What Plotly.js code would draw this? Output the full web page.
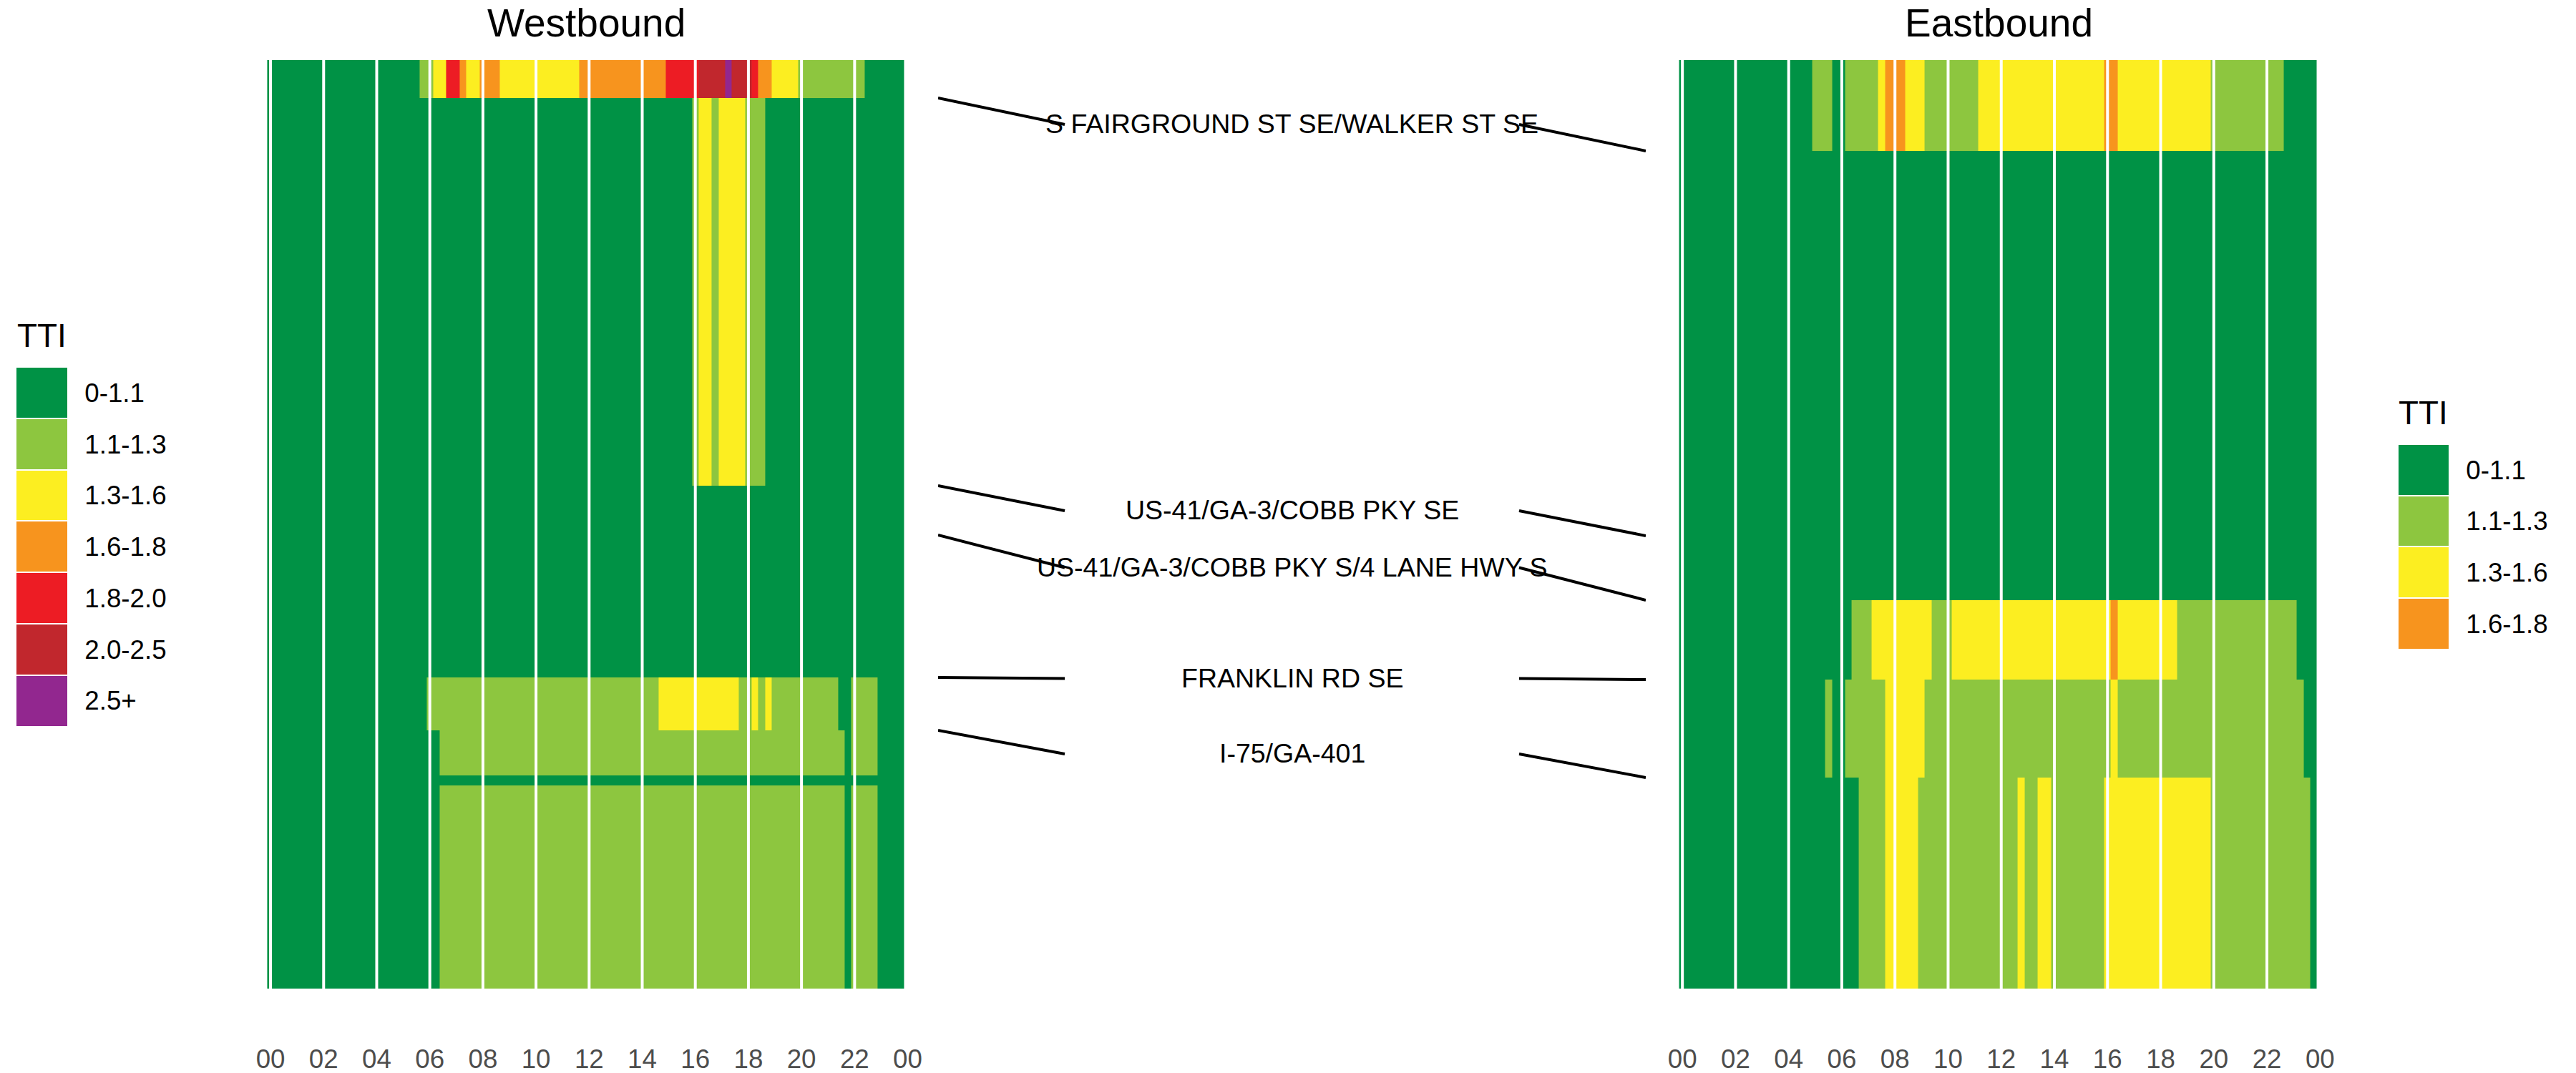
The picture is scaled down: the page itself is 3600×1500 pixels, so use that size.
<!DOCTYPE html>
<html>
<head>
<meta charset="utf-8">
<script src="https://cdn.plot.ly/plotly-3.0.1.min.js"></script>
<style>html,body{margin:0;padding:0;background:#fff;}</style>
</head>
<body>
<div id="chart" style="width:3600px;height:1500px;"></div>
<script>
// ---------------- DATA ----------------
const ttiCategories = ["0-1.1", "1.1-1.3", "1.3-1.6", "1.6-1.8", "1.8-2.0", "2.0-2.5", "2.5+"];
const ttiColors = ["#009245", "#8DC63F", "#FCEE21", "#F7941E", "#ED1C24", "#C1272D", "#92278F"];

const hourTicks = [0, 2, 4, 6, 8, 10, 12, 14, 16, 18, 20, 22, 24];
const hourTickLabels = ["00", "02", "04", "06", "08", "10", "12", "14", "16", "18", "20", "22", "00"];
const binsPerDay = 96;           // 15-minute bins
const binHours = 0.25;

const panelTitles = ["Westbound", "Eastbound"];

// segment lengths (miles), listed top to bottom
const westSegmentLengths = [0.212, 2.168, 0.276, 0.796, 0.296, 0.252, 0.056, 1.136];
const eastSegmentLengths = [0.508, 2.152, 0.360, 0.444, 0.548, 1.180];

// TTI category index per 15-min bin (each chunk = 6 hours), rows top to bottom
const westRows = [
  ["000000000000000000000001", "122443223332222222222223", "333333333333444445555655", "543322221111111111000000"],
  ["000000000000000000000000", "000000000000000000000000", "000000000000000012212222", "111000000000000000000000"],
  ["000000000000000000000000", "000000000000000000000000", "000000000000000000000000", "000000000000000000000000"],
  ["000000000000000000000000", "000000000000000000000000", "000000000000000000000000", "000000000000000000000000"],
  ["000000000000000000000000", "111111111111111111111111", "111111111112222222222221", "121211111111110011110000"],
  ["000000000000000000000000", "001111111111111111111111", "111111111111111111111111", "111111111111111011110000"],
  ["000000000000000000000000", "000000000000000000000000", "000000000000000000000000", "000000000000000000000000"],
  ["000000000000000000000000", "001111111111111111111111", "111111111111111111111111", "111111111111111011110000"]
];
const eastRows = [
  ["000000000000000000001110", "011111233322211111111222", "222222222222222233222222", "222222221111111111100000"],
  ["000000000000000000000000", "000000000000000000000000", "000000000000000000000000", "000000000000000000000000"],
  ["000000000000000000000000", "000000000000000000000000", "000000000000000000000000", "000000000000000000000000"],
  ["000000000000000000000000", "001112222222221112222222", "222222222222222223222222", "222111111111111111111000"],
  ["000000000000000000000010", "011111122222211111111111", "111111111111111112111111", "111111111111111111111100"],
  ["000000000000000000000000", "000111122222111111111111", "111211221111111122222222", "222222221111111111111110"]
];

// intersections: label, boundary index (after N segments) westbound, eastbound
const intersections = ["S FAIRGROUND ST SE/WALKER ST SE", "US-41/GA-3/COBB PKY SE",
  "US-41/GA-3/COBB PKY S/4 LANE HWY S", "FRANKLIN RD SE", "I-75/GA-401"];
const westBoundaryAfter = [1, 2, 3, 4, 5];
const eastBoundaryAfter = [1, 2, 3, 4, 5];

// ---------------- BUILD ----------------
function cumEdges(lengths) {
  const e = [0];
  lengths.forEach(l => e.push(+(e[e.length - 1] + l).toFixed(4)));
  return e;
}
function parseRows(rows) {
  return rows.map(r => r.join("").split("").map(Number));
}
const binCenters = [];
for (let k = 0; k < binsPerDay; k++) binCenters.push(k * binHours);

const westEdges = cumEdges(westSegmentLengths);
const eastEdges = cumEdges(eastSegmentLengths);
const westZ = parseRows(westRows);
const eastZ = parseRows(eastRows);
const totalLen = Math.max(westEdges[westEdges.length - 1], eastEdges[eastEdges.length - 1]);

const nCat = ttiCategories.length;
const colorscale = [];
ttiColors.forEach((c, i) => { colorscale.push([i / nCat, c]); colorscale.push([(i + 1) / nCat, c]); });

const FONT = "Liberation Sans, Arial, Helvetica, sans-serif";
const W = 3600, H = 1500;
const px = v => v / W;
const py = v => 1 - v / H;

const panelY = [py(1382), py(84)];

const traces = [];
traces.push({type: "heatmap", x: binCenters, y: westEdges, z: westZ, xaxis: "x", yaxis: "y",
  colorscale: colorscale, zmin: -0.5, zmax: nCat - 0.5, showscale: false, zsmooth: false, hoverinfo: "skip"});
traces.push({type: "heatmap", x: binCenters, y: eastEdges, z: eastZ, xaxis: "x2", yaxis: "y2",
  colorscale: colorscale, zmin: -0.5, zmax: nCat - 0.5, showscale: false, zsmooth: false, hoverinfo: "skip"});

// connectors between the two panels
const lx = [], ly = [], labY = [];
const mL = 0.179, mR = 0.821;
intersections.forEach((name, i) => {
  const yl = westEdges[westBoundaryAfter[i]];
  const yr = eastEdges[eastBoundaryAfter[i]];
  const ym = (yl + yr) / 2;
  labY.push(ym);
  lx.push(0, mL, null, mR, 1, null);
  ly.push(yl, ym, null, ym, yr, null);
});
traces.push({type: "scatter", mode: "lines", x: lx, y: ly, xaxis: "x3", yaxis: "y3",
  line: {color: "#000", width: 4}, hoverinfo: "skip", connectgaps: false});

// legends as small heatmaps
function usedCats(z) {
  let m = 0; z.forEach(r => r.forEach(v => { if (v > m) m = v; })); return m + 1;
}
const westLegN = usedCats(westZ), eastLegN = usedCats(eastZ);
const legIdx = n => ttiCategories.slice(0, n).map((_, i) => i);
traces.push({type: "heatmap", x: [0], y: legIdx(westLegN), z: legIdx(westLegN).map(i => [i]),
  xaxis: "x4", yaxis: "y4", colorscale: colorscale, zmin: -0.5, zmax: nCat - 0.5, showscale: false,
  ygap: 2, hoverinfo: "skip"});
traces.push({type: "heatmap", x: [0], y: legIdx(eastLegN), z: legIdx(eastLegN).map(i => [i]),
  xaxis: "x5", yaxis: "y5", colorscale: colorscale, zmin: -0.5, zmax: nCat - 0.5, showscale: false,
  ygap: 2, hoverinfo: "skip"});

const tickAxis = (dom, anchor) => ({
  domain: dom, anchor: anchor, range: [-0.15, 24.15], tickmode: "array",
  tickvals: hourTicks, ticktext: hourTickLabels, ticks: "outside", ticklen: 66,
  tickcolor: "rgba(0,0,0,0)", showgrid: false, zeroline: false, showline: false,
  tickfont: {family: FONT, size: 36.7, color: "#4D4D4D"}, fixedrange: true
});
const hiddenY = (dom, anchor, range) => ({
  domain: dom, anchor: anchor, range: range, visible: false, showgrid: false, zeroline: false, fixedrange: true
});
const legendY = (dom, anchor, n) => ({
  domain: dom, anchor: anchor, range: [n - 0.5, -0.5], side: "right", tickmode: "array",
  tickvals: legIdx(n), ticktext: ttiCategories.slice(0, n), ticks: "outside", ticklen: 16,
  tickcolor: "rgba(0,0,0,0)", showgrid: false, zeroline: false, showline: false,
  tickfont: {family: FONT, size: 36.7, color: "#000"}, fixedrange: true
});

const shapes = [];
[["x", "y"], ["x2", "y2"]].forEach(([xr, yr]) => {
  hourTicks.filter(h => h < 24).forEach(h => {
    shapes.push({type: "line", xref: xr, yref: yr + " domain", x0: h, x1: h, y0: 0, y1: 1,
      line: {color: "#FFFFFF", width: 4}, layer: "above"});
  });
});

const annotations = [
  {text: panelTitles[0], xref: "paper", yref: "paper", x: px(819), y: 1, xanchor: "center", yanchor: "top",
    borderpad: 0, showarrow: false, font: {family: FONT, size: 55, color: "#000"}},
  {text: panelTitles[1], xref: "paper", yref: "paper", x: px(2793), y: 1, xanchor: "center", yanchor: "top",
    borderpad: 0, showarrow: false, font: {family: FONT, size: 55, color: "#000"}},
  {text: "TTI", xref: "paper", yref: "paper", x: px(22), y: py(469), xanchor: "left", yanchor: "middle",
    showarrow: false, font: {family: FONT, size: 45.8, color: "#000"}},
  {text: "TTI", xref: "paper", yref: "paper", x: px(3350), y: py(577), xanchor: "left", yanchor: "middle",
    showarrow: false, font: {family: FONT, size: 45.8, color: "#000"}}
];
intersections.forEach((name, i) => {
  annotations.push({text: name, xref: "x3", yref: "y3", x: 0.5, y: labY[i], xanchor: "center", yanchor: "middle",
    yshift: 1, showarrow: false, font: {family: FONT, size: 37.5, color: "#000"}});
});

const layout = {
  width: W, height: H, autosize: false,
  margin: {l: 0, r: 0, t: 0, b: 0, pad: 0},
  paper_bgcolor: "#FFFFFF", plot_bgcolor: "#FFFFFF",
  showlegend: false,
  font: {family: FONT, color: "#000"},
  xaxis: tickAxis([px(372.5), px(1274.1)], "y"),
  yaxis: hiddenY(panelY, "x", [totalLen, 0]),
  xaxis2: tickAxis([px(2345.6), px(3247.9)], "y2"),
  yaxis2: hiddenY(panelY, "x2", [totalLen, 0]),
  xaxis3: {domain: [px(1311), px(2300)], anchor: "y3", range: [0, 1], visible: false, fixedrange: true},
  yaxis3: hiddenY(panelY, "x3", [totalLen, 0]),
  xaxis4: {domain: [px(23), px(94)], anchor: "y4", visible: false, fixedrange: true},
  yaxis4: legendY([py(1015.5), py(513)], "x4", westLegN),
  xaxis5: {domain: [px(3352), px(3422)], anchor: "y5", visible: false, fixedrange: true},
  yaxis5: legendY([py(907.7), py(621)], "x5", eastLegN),
  shapes: shapes,
  annotations: annotations
};

Plotly.newPlot("chart", traces, layout, {staticPlot: true, displayModeBar: false});
</script>
</body>
</html>
